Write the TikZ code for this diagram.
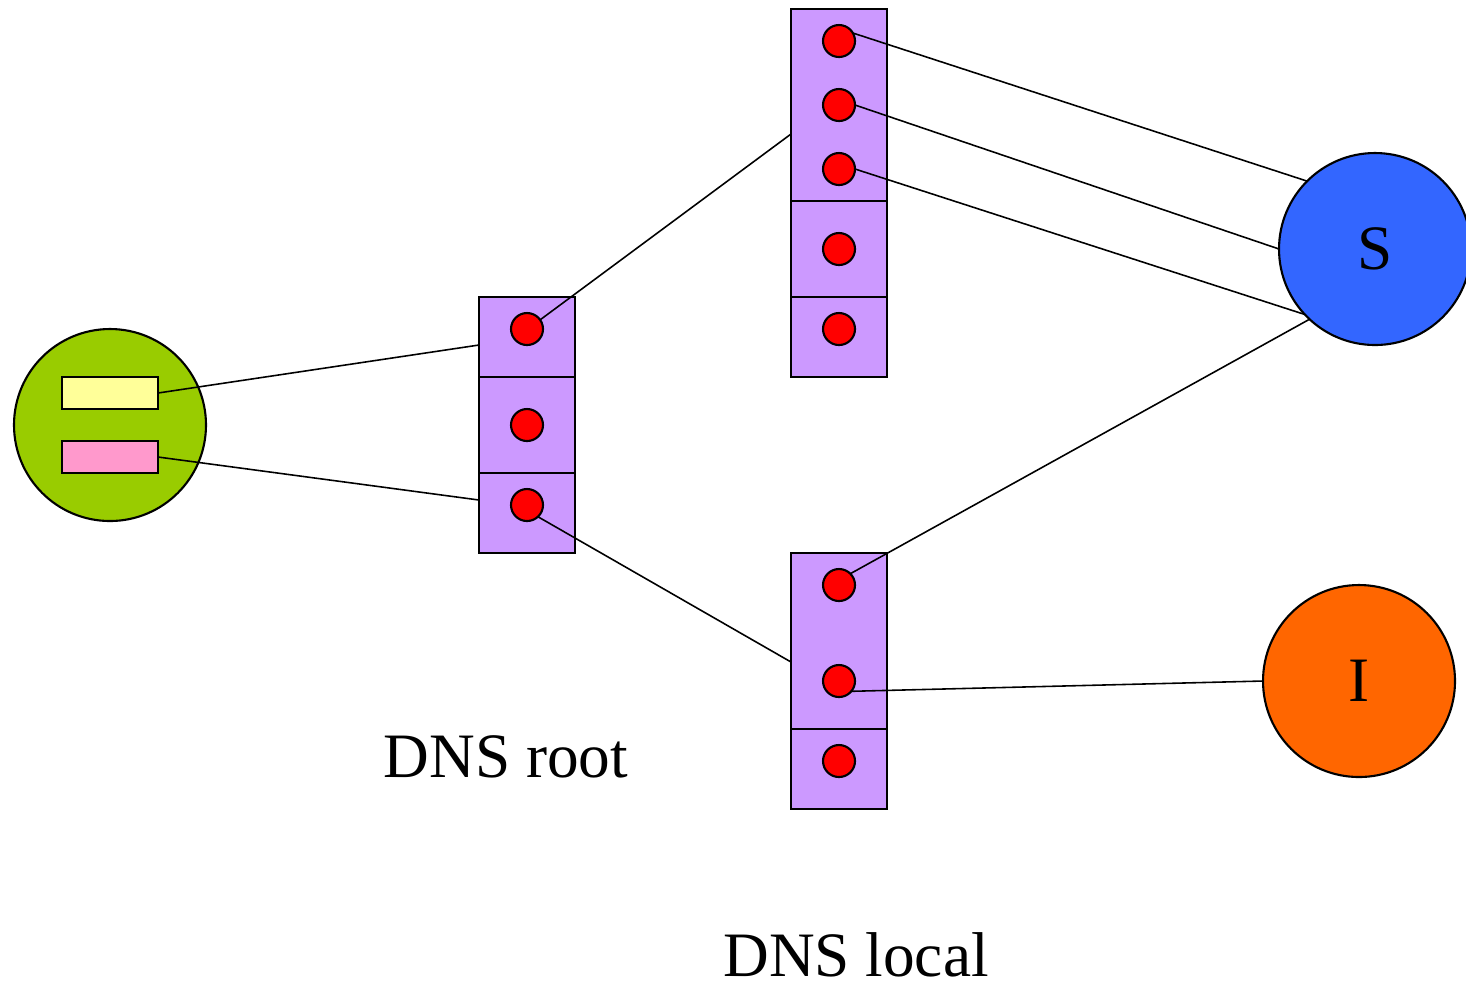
\documentclass[tikz,border=0pt]{standalone}
\usepackage{fontspec}
\setmainfont{Liberation Serif}
\begin{document}
\begin{tikzpicture}[x=0.1mm, y=-0.1mm,
  every node/.style={inner sep=0pt, outer sep=0pt},
  cell/.style={draw, line width=0.6pt, fill=cellpurple, rectangle, minimum width=9.6mm},
  dot/.style={draw, line width=0.6pt, fill=red, circle, minimum size=3.2mm},
  tag/.style={draw, line width=0.6pt, rectangle, minimum width=9.6mm, minimum height=3.2mm},
  host/.style={draw, line width=0.6pt, circle, minimum size=19.2mm, font=\fontsize{18}{20}\selectfont},
  link/.style={line width=0.45pt},
  caption/.style={font=\fontsize{18}{22}\selectfont}]
\definecolor{cellpurple}{HTML}{CC99FF}
\definecolor{hostgreen}{HTML}{99CC00}
\definecolor{tagyellow}{HTML}{FFFF99}
\definecolor{tagpink}{HTML}{FF99CC}
\definecolor{hostblue}{HTML}{3366FF}
\definecolor{hostorange}{HTML}{FF6600}
\useasboundingbox (0,0) rectangle (1466,985);

% client with its two records
\node[host, fill=hostgreen] (client) at (110,425) {};
\node[tag, fill=tagyellow] (rec1) at (110,393) {};
\node[tag, fill=tagpink] (rec2) at (110,457) {};

% root server cells
\node[cell, minimum height=8mm] (r1) at (527,337) {};
\node[cell, minimum height=9.6mm] (r2) at (527,425) {};
\node[cell, minimum height=8mm] (r3) at (527,513) {};

% upper local server cells
\node[cell, minimum height=19.2mm] (u1) at (839,105) {};
\node[cell, minimum height=9.6mm] (u2) at (839,249) {};
\node[cell, minimum height=8mm] (u3) at (839,337) {};

% lower local server cells
\node[cell, minimum height=17.6mm] (l1) at (839,641) {};
\node[cell, minimum height=8mm] (l2) at (839,769) {};

% remote hosts
\node[host, fill=hostblue] (S) at (1375,249) {S};
\node[host, fill=hostorange] (I) at (1359,681) {I};

% dots
\node[dot] (rd1) at (527,329) {};
\node[dot] (rd2) at (527,425) {};
\node[dot] (rd3) at (527,505) {};
\node[dot] (ud1) at (839,41) {};
\node[dot] (ud2) at (839,105) {};
\node[dot] (ud3) at (839,169) {};
\node[dot] (ud4) at (839,249) {};
\node[dot] (ud5) at (839,329) {};
\node[dot] (ld1) at (839,585) {};
\node[dot] (ld2) at (839,681) {};
\node[dot] (ld3) at (839,761) {};

% connectors
\draw[link] (rec1.east) -- ([yshift=-0.8mm]r1.west);
\draw[link] (rec2.east) -- ([yshift=1.3mm]r3.west);
\draw[link] (rd1.35) -- ([yshift=-2.9mm]u1.west);
\draw[link] (rd3.-47) -- ([yshift=-2.1mm]l1.west);
\draw[link] (ud1.30) -- (S.135);
\draw[link] (ud2.0) -- (S.180);
\draw[link] (ud3.0) -- (S.223);
\draw[link] (ld1.45) -- (S.227);
\draw[link] (ld2.-40) -- (I.west);

% labels
\node[caption] (rootlabel) at (506,757) {DNS root};
\node[caption] (locallabel) at (856,955) {DNS local};
\end{tikzpicture}
\end{document}
